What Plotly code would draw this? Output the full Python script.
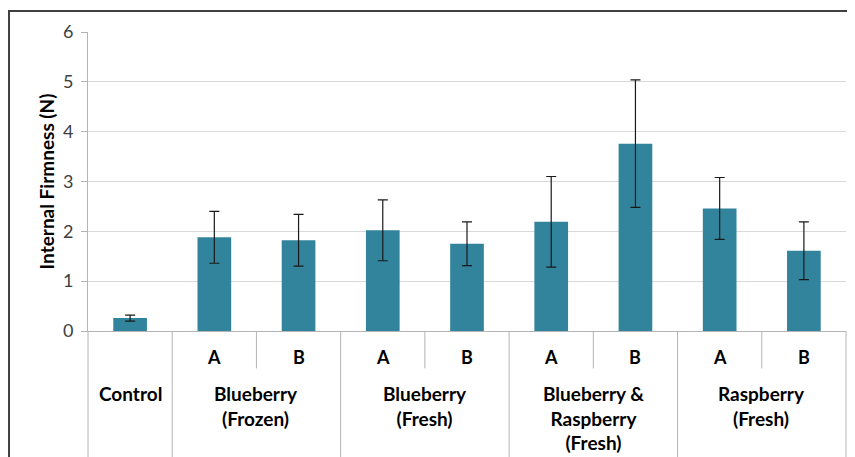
import plotly.graph_objects as go

# ---- data ----
groups = ["Control", "Blueberry<br>(Frozen)", "Blueberry<br>(Fresh)",
          "Blueberry &<br>Raspberry<br>(Fresh)", "Raspberry<br>(Fresh)"]
subs = [[""], ["A", "B"], ["A", "B"], ["A", "B"], ["A", "B"]]
values = [0.26, 1.88, 1.82, 2.02, 1.75, 2.19, 3.76, 2.46, 1.61]
errors = [0.06, 0.52, 0.52, 0.61, 0.44, 0.91, 1.28, 0.62, 0.58]
y_title = "Internal Firmness (N)"
y_ticks = [0, 1, 2, 3, 4, 5, 6]

BAR = "#31849B"
LINE = "#B4B4B4"
FONT = "Lato"

# category keys
cats = []
for g, ss in zip(groups, subs):
    for s in ss:
        cats.append(f"{g}|{s}")

fig = go.Figure()
fig.add_trace(go.Bar(
    x=cats, y=values, width=0.4,
    marker=dict(color=BAR, line=dict(width=0)),
    error_y=dict(type="data", array=errors, visible=True,
                 color="#1A1A1A", thickness=1.2, width=5),
    showlegend=False,
))

shapes = []
annotations = []
idx = 0
for gi, (g, ss) in enumerate(zip(groups, subs)):
    start = idx
    for si, s in enumerate(ss):
        if s:
            annotations.append(dict(x=cats[idx], y=-0.087, xref="x", yref="paper",
                                    text=f"<b>{s}</b>", showarrow=False,
                                    font=dict(family=FONT, size=18, color="#000000"),
                                    xanchor="center", yanchor="middle"))
        if si > 0:
            shapes.append(dict(type="line", xref="x", yref="paper",
                               x0=idx - 0.5, x1=idx - 0.5, y0=0, y1=-0.125,
                               line=dict(color=LINE, width=1)))
        idx += 1
    end = idx - 1
    annotations.append(dict(x=(start + end) / 2, y=-0.163, xref="x", yref="paper",
                            text="<b>" + g + "</b>", showarrow=False,
                            font=dict(family=FONT, size=19, color="#000000"),
                            xanchor="center", yanchor="top"))
    if gi > 0:
        shapes.append(dict(type="line", xref="x", yref="paper",
                           x0=start - 0.5, x1=start - 0.5, y0=0, y1=-0.45,
                           line=dict(color=LINE, width=1)))
for xe in (0, 1):
    shapes.append(dict(type="line", xref="paper", yref="paper",
                       x0=xe, x1=xe, y0=0, y1=-0.45,
                       line=dict(color=LINE, width=1)))
# outer border of the chart area
shapes.append(dict(type="rect", xref="paper", yref="paper",
                   x0=-0.1042, x1=1.05, y0=-0.5, y1=1.0702,
                   line=dict(color="#404040", width=2), fillcolor="rgba(0,0,0,0)"))

fig.update_layout(
    width=847, height=449,
    margin=dict(l=80, r=9, t=24, b=126, autoexpand=False),
    paper_bgcolor="white", plot_bgcolor="white",
    shapes=shapes, annotations=annotations,
    font=dict(family=FONT),
    xaxis=dict(type="category", showticklabels=False, showgrid=False,
               showline=True, linecolor=LINE, linewidth=1, ticks="",
               range=[-0.5, len(cats) - 0.5], zeroline=False, automargin=False),
    yaxis=dict(range=[0, 6], tickvals=y_ticks, showgrid=True, gridcolor="#D9D9D9",
               gridwidth=1, showline=True, linecolor=LINE, linewidth=1,
               ticks="outside", ticklen=6, tickcolor=LINE, zeroline=False,
               automargin=False,
               tickfont=dict(family=FONT, size=18, color="#404040"),
               ticklabelstandoff=4,
               title=dict(text=y_title, standoff=3,
                          font=dict(family=FONT, size=19, color="#000000",
                                    weight="bold"))),
)

fig.write_html("out.html")
